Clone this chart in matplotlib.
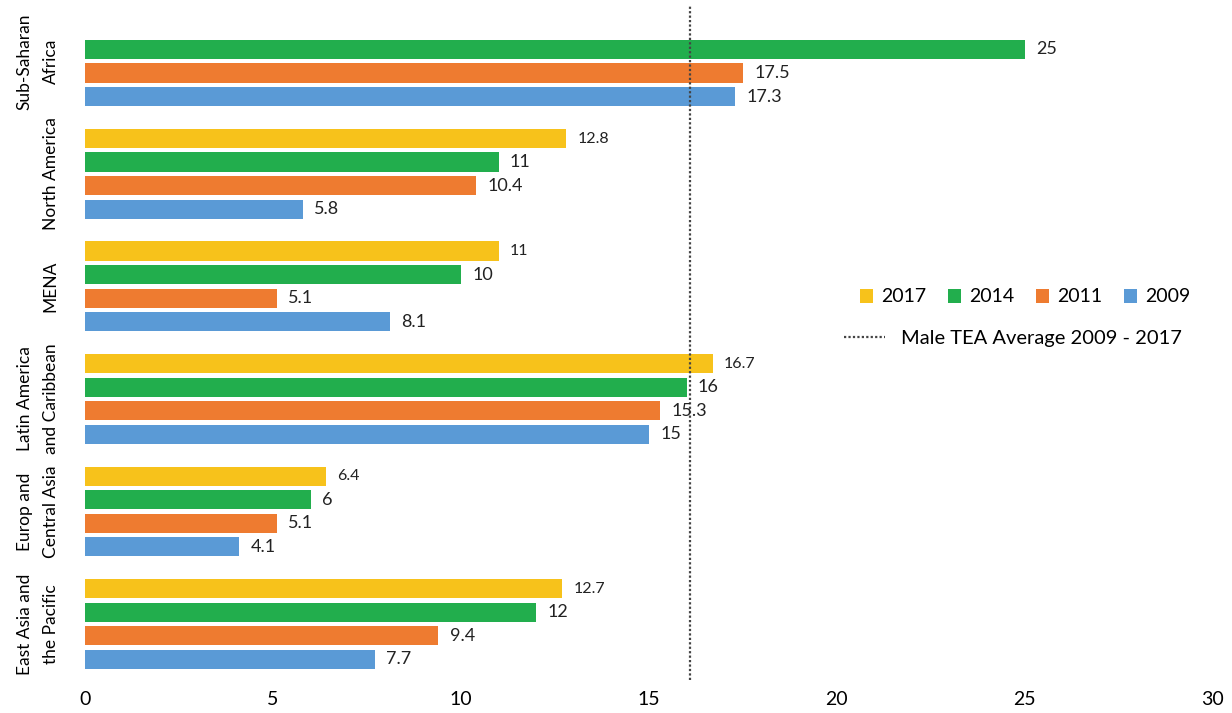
import numpy as np
import matplotlib
matplotlib.use("Agg")
import matplotlib.pyplot as plt
from matplotlib.patches import Patch
from matplotlib.lines import Line2D

plt.rcParams['font.family'] = ['Lato', 'DejaVu Sans']

# data (bottom to top as drawn)
regions = ["East Asia and\nthe Pacific", "Europ and\nCentral Asia", "Latin America\nand Caribbean",
           "MENA", "North America", "Sub-Saharan\nAfrica"]
years = ["2017", "2014", "2011", "2009"]
v2017 = [12.7, 6.4, 16.7, 11, 12.8, np.nan]
v2014 = [12, 6, 16, 10, 11, 25]
v2011 = [9.4, 5.1, 15.3, 5.1, 10.4, 17.5]
v2009 = [7.7, 4.1, 15, 8.1, 5.8, 17.3]
male_tea_avg = 16.1

series = [v2017, v2014, v2011, v2009]
colors = ['#F7C21B', '#22AE4D', '#EE7B30', '#5A9AD6']
label_sizes = [11.5, 13, 13, 13]

fig = plt.figure(figsize=(12.32, 7.13), dpi=100)
ax = fig.add_axes([0.069, 0.046, 0.9155, 0.947])

y = np.arange(len(regions))
step = 0.209
offsets = [1.5 * step, 0.5 * step, -0.5 * step, -1.5 * step]

for vals, col, off, fs in zip(series, colors, offsets, label_sizes):
    arr = np.array(vals, dtype=float)
    ax.barh(y + off, arr, height=0.17, color=col, edgecolor='none')
    for yi, v in zip(y, arr):
        if np.isnan(v):
            continue
        ax.text(v + 0.3, yi + off, f"{v:g}", va='center', ha='left',
                fontsize=fs, color='#222222')

ax.axvline(male_tea_avg, color='#444444', linestyle=(0, (1, 1)), linewidth=1.6)

ax.set_xlim(0, 30)
ax.set_ylim(-0.5, 5.5)
ax.set_xticks(range(0, 31, 5))
ax.set_yticks(y)
ax.set_yticklabels(regions, rotation=90, va='center', ha='right',
                   multialignment='center', linespacing=1.75)
ax.tick_params(axis='y', length=0, labelsize=12.5, pad=19)
ax.tick_params(axis='x', length=0, labelsize=14, pad=8)
for s in ax.spines.values():
    s.set_visible(False)

h1 = [Patch(facecolor=c, edgecolor='none') for c in colors]
leg1 = ax.legend(h1, years, ncol=4, frameon=False, fontsize=14,
                 loc='center', bbox_to_anchor=(1025 / 1232, 1 - 297 / 713),
                 bbox_transform=fig.transFigure, handlelength=0.7, handleheight=0.7,
                 handletextpad=0.4, columnspacing=1.1)
ax.add_artist(leg1)
h2 = [Line2D([0], [0], color='#444444', linestyle=(0, (1, 1)), linewidth=1.6)]
ax.legend(h2, ["Male TEA Average 2009 - 2017"], frameon=False, fontsize=14.5,
          loc='center', bbox_to_anchor=(1013 / 1232, 1 - 338 / 713),
          bbox_transform=fig.transFigure, handlelength=2.0, handletextpad=0.8)

fig.savefig("out.png", dpi=100)
